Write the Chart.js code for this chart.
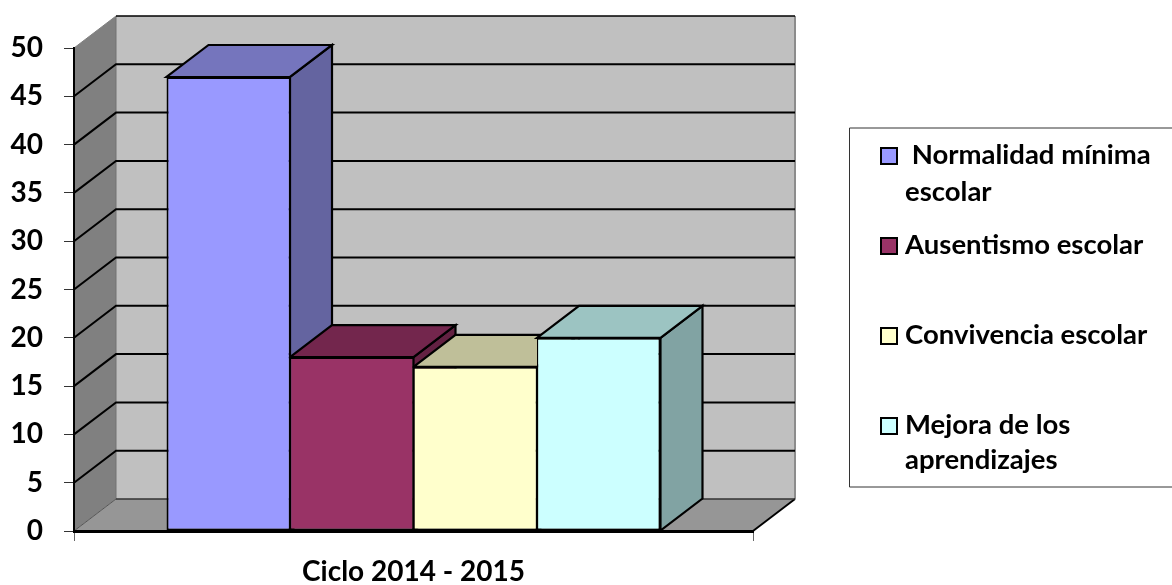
<!DOCTYPE html>
<html lang="es">
<head>
<meta charset="utf-8">
<title>Ciclo 2014 - 2015</title>
<script src="https://cdn.jsdelivr.net/npm/chart.js@4/dist/chart.umd.min.js"></script>
<style>
    html, body { margin: 0; padding: 0; background: #fff; overflow: hidden; }
    canvas { display: block; }
</style>
</head>
<body>
<canvas id="grafica" width="1172" height="585"></canvas>
<script>
// Datos de la grafica
const categories = ['Ciclo 2014 - 2015'];
const seriesNames = ['Normalidad mínima escolar', 'Ausentismo escolar', 'Convivencia escolar', 'Mejora de los aprendizajes'];
const normalidad = [47];
const ausentismo = [18];
const convivencia = [17];
const aprendizajes = [20];
const yTicks = [0, 5, 10, 15, 20, 25, 30, 35, 40, 45, 50];

// Colores de cada serie: frente, tapa y costado
const frontColors = ['#9999ff', '#993366', '#ffffcc', '#ccffff'];
const topColors = ['#7575bd', '#73264d', '#bfbf99', '#9cc4c2'];
const sideColors = ['#6464a0', '#632142', '#a3a385', '#81a3a3'];

// Leyenda partida en lineas, como en el original
const legendLines = [[' Normalidad mínima', 'escolar'], ['Ausentismo escolar'], ['Convivencia escolar'], ['Mejora de los', 'aprendizajes']];
const legendBaselines = [[164, 201], [254], [344], [434, 469]];

const depthX = 42;
const depthY = 32;
const fontFamily = 'Lato, "Open Sans", sans-serif';

function polygon(ctx, points, fill, stroke, width) {
    ctx.beginPath();
    points.forEach((p, i) => i === 0 ? ctx.moveTo(p[0], p[1]) : ctx.lineTo(p[0], p[1]));
    ctx.closePath();
    if (fill) {
        ctx.fillStyle = fill;
        ctx.fill();
    }
    if (stroke) {
        ctx.strokeStyle = stroke;
        ctx.lineWidth = width;
        ctx.stroke();
    }
}

function line(ctx, points, color, width) {
    ctx.beginPath();
    points.forEach((p, i) => i === 0 ? ctx.moveTo(p[0], p[1]) : ctx.lineTo(p[0], p[1]));
    ctx.strokeStyle = color;
    ctx.lineWidth = width;
    ctx.stroke();
}

// Paredes y piso en perspectiva, con las lineas de la escala
const wallsPlugin = {
    id: 'walls',
    beforeDraw(chart) {
        const ctx = chart.ctx;
        const area = chart.chartArea;
        const y = chart.scales.y;
        const l = area.left, r = area.right, t = area.top, b = area.bottom;
        ctx.save();
        polygon(ctx, [[l + depthX, t - depthY], [r + depthX, t - depthY], [r + depthX, b - depthY], [l + depthX, b - depthY]], '#c0c0c0');
        polygon(ctx, [[l, t], [l + depthX, t - depthY], [l + depthX, b - depthY], [l, b]], '#808080');
        polygon(ctx, [[l, b], [l + depthX, b - depthY], [r + depthX, b - depthY], [r, b]], '#969696');

        // bordes grises de las paredes
        line(ctx, [[l + depthX, t - depthY], [l + depthX, b - depthY]], '#737373', 1);
        line(ctx, [[r + depthX, t - depthY], [r + depthX, b - depthY]], '#8c8c8c', 2);
        line(ctx, [[l, t], [l + depthX, t - depthY]], '#808080', 1);
        line(ctx, [[l, b], [l + depthX, b - depthY]], '#555555', 1);
        line(ctx, [[r, b], [r + depthX, b - depthY]], '#000000', 2);

        yTicks.forEach(v => {
            const py = y.getPixelForValue(v);
            if (v === 0) {
                line(ctx, [[l + depthX, py - depthY], [r + depthX, py - depthY]], '#333333', 1.5);
            } else if (v === y.max) {
                line(ctx, [[l + depthX, py - depthY], [r + depthX, py - depthY]], '#000000', 1.5);
            } else {
                line(ctx, [[l, py], [l + depthX, py - depthY], [r + depthX, py - depthY]], '#000000', 2);
            }
        });
        ctx.restore();
    }
};

// Tapa y costado de cada barra, de izquierda a derecha
const barDepthPlugin = {
    id: 'barDepth',
    beforeDatasetsDraw(chart) {
        const ctx = chart.ctx;
        ctx.save();
        ctx.lineJoin = 'miter';
        chart.data.datasets.forEach((ds, i) => {
            const bar = chart.getDatasetMeta(i).data[0];
            const left = bar.x - bar.width / 2;
            const right = bar.x + bar.width / 2;
            polygon(ctx, [[right, bar.y], [right + depthX, bar.y - depthY], [right + depthX, bar.base - depthY], [right, bar.base]], sideColors[i], '#000000', 2.2);
            polygon(ctx, [[left, bar.y], [left + depthX, bar.y - depthY], [right + depthX, bar.y - depthY], [right, bar.y]], topColors[i], '#000000', 2.2);
        });
        ctx.restore();
    }
};

// Leyenda dibujada a mano, el recuadro queda abierto a la derecha
const legendPlugin = {
    id: 'cuadroLeyenda',
    afterDraw(chart) {
        const ctx = chart.ctx;
        ctx.save();
        line(ctx, [[1172, 128], [849.5, 128], [849.5, 487], [1172, 487]], '#333333', 1);
        ctx.font = 'bold 27.5px ' + fontFamily;
        ctx.textBaseline = 'alphabetic';
        ctx.textAlign = 'left';
        legendLines.forEach((lines, i) => {
            lines.forEach((txt, j) => {
                ctx.fillStyle = '#000000';
                ctx.fillText(txt, 905, legendBaselines[i][j]);
            });
            const top = legendBaselines[i][0] - 16;
            ctx.fillStyle = frontColors[i];
            ctx.strokeStyle = '#000000';
            ctx.lineWidth = 2;
            ctx.fillRect(881, top, 16, 16);
            ctx.strokeRect(881, top, 16, 16);
        });
        ctx.restore();
    }
};

const seriesValues = [normalidad, ausentismo, convivencia, aprendizajes];

new Chart(document.getElementById('grafica').getContext('2d'), {
    type: 'bar',
    data: {
        labels: categories,
        datasets: seriesNames.map((name, i) => ({
            label: name,
            data: seriesValues[i],
            backgroundColor: frontColors[i],
            borderColor: '#000000',
            borderSkipped: false,
            borderWidth: { top: 2, bottom: 2, left: i === 0 ? 2 : 1.25, right: i === 3 ? 2 : 1.25 }
        }))
    },
    options: {
        responsive: false,
        animation: false,
        layout: { padding: { top: 48, right: 419, left: 0, bottom: 0 } },
        datasets: { bar: { categoryPercentage: 0.7275, barPercentage: 1 } },
        plugins: {
            legend: { display: false },
            tooltip: { enabled: false }
        },
        scales: {
            x: {
                afterFit(scale) { scale.height = 54; },
                grid: { drawOnChartArea: false, tickLength: 10, tickColor: '#666666', tickWidth: 1 },
                border: { color: '#000000', width: 3 },
                ticks: {
                    color: '#000000',
                    padding: 14,
                    font: { family: fontFamily, size: 28, weight: 'bold' }
                }
            },
            y: {
                min: 0,
                max: 50,
                afterFit(scale) { scale.width = 74; },
                afterBuildTicks(scale) { scale.ticks = yTicks.map(v => ({ value: v })); },
                grid: { drawOnChartArea: false, tickLength: 10, tickColor: '#333333', tickWidth: 1 },
                border: { color: '#000000', width: 2 },
                ticks: {
                    color: '#000000',
                    padding: 21,
                    font: { family: fontFamily, size: 28, weight: 'bold' }
                }
            }
        }
    },
    plugins: [wallsPlugin, barDepthPlugin, legendPlugin]
});
</script>
</body>
</html>
